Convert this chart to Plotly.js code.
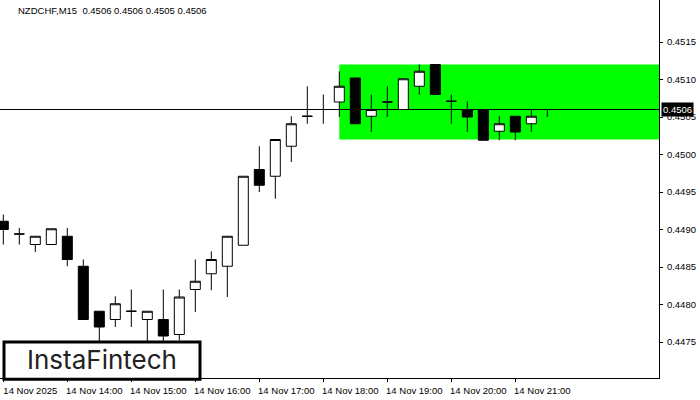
<!DOCTYPE html>
<html>
<head>
<meta charset="utf-8">
<script src="https://cdn.plot.ly/plotly-3.0.1.min.js"></script>
<style>
html,body{margin:0;padding:0;background:#fff;}
#chart{width:700px;height:400px;}
</style>
</head>
<body>
<div id="chart"></div>
<script>
// ---- data ----
var times = [
  "2025-11-14 13:00","2025-11-14 13:15","2025-11-14 13:30","2025-11-14 13:45",
  "2025-11-14 14:00","2025-11-14 14:15","2025-11-14 14:30","2025-11-14 14:45",
  "2025-11-14 15:00","2025-11-14 15:15","2025-11-14 15:30","2025-11-14 15:45",
  "2025-11-14 16:00","2025-11-14 16:15","2025-11-14 16:30","2025-11-14 16:45",
  "2025-11-14 17:00","2025-11-14 17:15","2025-11-14 17:30","2025-11-14 17:45",
  "2025-11-14 18:00","2025-11-14 18:15","2025-11-14 18:30","2025-11-14 18:45",
  "2025-11-14 19:00","2025-11-14 19:15","2025-11-14 19:30","2025-11-14 19:45",
  "2025-11-14 20:00","2025-11-14 20:15","2025-11-14 20:30","2025-11-14 20:45",
  "2025-11-14 21:00","2025-11-14 21:15","2025-11-14 21:30"
];
var openP  = [0.44911,0.44894,0.44880,0.44880,0.44891,0.44851,0.44791,0.44780,
              0.44791,0.44780,0.44780,0.44760,0.44820,0.44841,0.44851,0.44879,
              0.44980,0.44971,0.45011,0.45051,0.45060,0.45070,0.45102,0.45051,
              0.45070,0.45060,0.45091,0.45120,0.45071,0.45060,0.45060,0.45031,
              0.45051,0.45041,0.4506];
var highP  = [0.44920,0.44902,0.44891,0.44901,0.44902,0.44860,0.44791,0.44811,
              0.44820,0.44791,0.44820,0.44820,0.44860,0.44871,0.44891,0.44971,
              0.45011,0.45020,0.45051,0.45091,0.45080,0.45111,0.45102,0.45080,
              0.45091,0.45101,0.45120,0.45120,0.45080,0.45071,0.45060,0.45051,
              0.45051,0.45060,0.4506];
var lowP   = [0.44880,0.44880,0.44870,0.44880,0.44851,0.44780,0.44745,0.44770,
              0.44770,0.44745,0.44745,0.44752,0.44790,0.44819,0.44810,0.44879,
              0.44950,0.44941,0.44990,0.45041,0.45041,0.45050,0.45041,0.45030,
              0.45050,0.45060,0.45080,0.45080,0.45041,0.45030,0.45019,0.45019,
              0.45019,0.45030,0.4505];
var closeP = [0.44900,0.44894,0.44891,0.44901,0.44860,0.44780,0.44770,0.44801,
              0.44791,0.44791,0.44758,0.44810,0.44831,0.44860,0.44891,0.44971,
              0.44959,0.45020,0.45041,0.45051,0.45060,0.45091,0.45041,0.45060,
              0.45070,0.45101,0.45111,0.45080,0.45071,0.45050,0.45019,0.45041,
              0.45030,0.45051,0.4506];

var xTickVals = ["2025-11-14 13:00","2025-11-14 14:00","2025-11-14 15:00","2025-11-14 16:00",
                 "2025-11-14 17:00","2025-11-14 18:00","2025-11-14 19:00","2025-11-14 20:00",
                 "2025-11-14 21:00"];
var xTickText = ["14 Nov 2025","14 Nov 14:00","14 Nov 15:00","14 Nov 16:00",
                 "14 Nov 17:00","14 Nov 18:00","14 Nov 19:00","14 Nov 20:00",
                 "14 Nov 21:00"];
var yTickVals = [0.4475,0.4480,0.4485,0.4490,0.4495,0.4500,0.4505,0.4510,0.4515];
var yTickText = ["0.4475","0.4480","0.4485","0.4490","0.4495","0.4500","0.4505","0.4510","0.4515"];

var titleText = "NZDCHF,M15  0.4506 0.4506 0.4505 0.4506";
var currentPrice = 0.4506;
var currentPriceText = "0.4506";
var zoneStart = "2025-11-14 18:15";
var zoneEnd = "2025-11-15 02:00";
var zoneTop = 0.4512;
var zoneBottom = 0.4502;
var logoText = "InstaFintech";

var FONT = "Liberation Sans, Arial, sans-serif";

var trace = {
  type: "candlestick",
  x: times, open: openP, high: highP, low: lowP, close: closeP,
  increasing: {line: {color: "#000", width: 1}, fillcolor: "#ffffff"},
  decreasing: {line: {color: "#000", width: 1}, fillcolor: "#000000"},
  whiskerwidth: 0,
  hoverinfo: "skip",
  showlegend: false
};

var layout = {
  width: 700, height: 400,
  margin: {l: 0, r: 41, t: 0, b: 22, pad: 0},
  paper_bgcolor: "#fff", plot_bgcolor: "#fff",
  showlegend: false,
  boxgap: 0.375, boxgroupgap: 0,
  title: {
    text: titleText, xref: "container", yref: "container",
    x: 18/700, xanchor: "left", y: 1 - 11/400, yanchor: "middle",
    font: {family: FONT, size: 9.5, color: "#000"}
  },
  xaxis: {
    type: "date",
    range: ["2025-11-14 12:56:54", "2025-11-14 23:14:42"],
    rangeslider: {visible: false},
    showgrid: false, zeroline: false,
    showline: true, linecolor: "#000", linewidth: 1,
    ticks: "outside", ticklen: 3, tickcolor: "#000", tickwidth: 1,
    tickmode: "array", tickvals: xTickVals, ticktext: xTickText,
    ticklabelshift: 27, ticklabelstandoff: 1,
    tickfont: {family: FONT, size: 9.5, color: "#000"},
    fixedrange: true
  },
  yaxis: {
    side: "right",
    range: [0.44702, 0.45206],
    showgrid: false, zeroline: false,
    showline: true, linecolor: "#000", linewidth: 1,
    ticks: "outside", ticklen: 3, tickcolor: "#000", tickwidth: 1,
    tickmode: "array", tickvals: yTickVals, ticktext: yTickText,
    ticklabelstandoff: 2,
    tickfont: {family: FONT, size: 9.5, color: "#000"},
    fixedrange: true
  },
  shapes: [
    {type: "rect", layer: "below", xref: "x", yref: "y",
     x0: zoneStart, x1: zoneEnd, y0: zoneBottom, y1: zoneTop,
     fillcolor: "#00ff00", line: {width: 0}},
    {type: "line", layer: "above", xref: "paper", yref: "y",
     x0: 0, x1: 1, y0: currentPrice, y1: currentPrice,
     line: {color: "#000", width: 1}},
    {type: "rect", layer: "above", xref: "paper", yref: "paper",
     x0: 4/659, x1: 200/659, y0: -0.003, y1: (378-342)/378,
     fillcolor: "#ffffff", line: {color: "#000", width: 3}}
  ],
  annotations: [
    {xref: "paper", yref: "y", x: 1, y: currentPrice, xanchor: "left", yanchor: "middle",
     xshift: 2, text: currentPriceText, showarrow: false,
     bgcolor: "#000", borderpad: 1,
     font: {family: FONT, size: 9.5, color: "#fff"}},
    {xref: "paper", yref: "paper", x: 102/659, y: (378-359)/378,
     xanchor: "center", yanchor: "middle", text: logoText, showarrow: false,
     font: {family: "Inter, Lato, sans-serif", size: 26, color: "#222", weight: 400}}
  ]
};

Plotly.newPlot("chart", [trace], layout, {displayModeBar: false, staticPlot: true});
</script>
</body>
</html>
